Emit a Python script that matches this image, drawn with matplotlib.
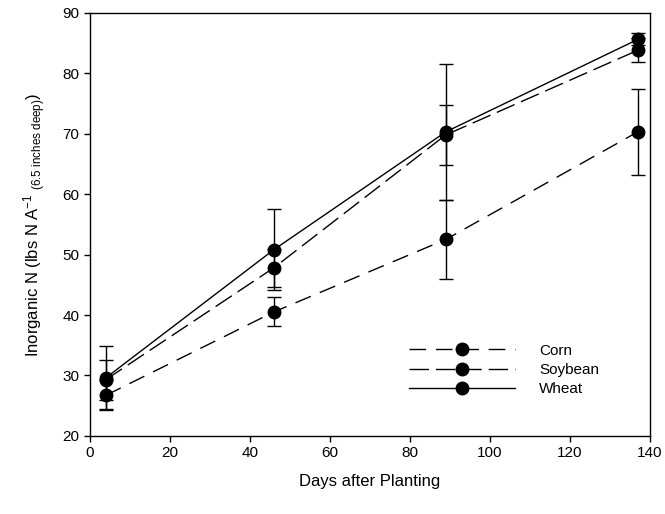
import matplotlib.pyplot as plt
from matplotlib.lines import Line2D

plt.rcParams['font.family'] = ['Liberation Sans', 'DejaVu Sans']
plt.rcParams['mathtext.fontset'] = 'custom'
plt.rcParams['mathtext.rm'] = 'Liberation Sans'
plt.rcParams['mathtext.it'] = 'Liberation Sans'

# Datos
dias = [4, 46, 89, 137]
corn = [26.7, 40.5, 52.5, 70.3]
corn_err = [2.5, 2.4, 6.5, 7.1]
soybean = [29.3, 47.8, 69.8, 83.8]
soybean_err = [3.3, 3.1, 5.0, 2.0]
wheat = [29.6, 50.8, 70.3, 85.6]
wheat_err = [5.2, 6.7, 11.3, 1.0]

series = [
    ("Corn", corn, corn_err, (0, (12, 7))),
    ("Soybean", soybean, soybean_err, (0, (14, 5))),
    ("Wheat", wheat, wheat_err, '-'),
]

fig = plt.figure(figsize=(6.65, 5.14), dpi=100)
ax = fig.add_axes([0.135, 0.152, 0.842, 0.823])

handles = []
for nome, y, err, estilo in series:
    ax.errorbar(dias, y, yerr=err, color='black', linestyle=estilo, linewidth=1,
                marker='o', markersize=9, capsize=5, elinewidth=1, capthick=1)
    handles.append(Line2D([], [], color='black', linestyle=estilo, linewidth=1,
                          marker='o', markersize=9, label=nome))

ax.set_xlim(0, 140)
ax.set_ylim(20, 90)
ax.set_xticks(range(0, 141, 20))
ax.set_yticks(range(20, 91, 10))
ax.tick_params(direction='out', labelsize=11, length=4, width=1)
for s in ax.spines.values():
    s.set_linewidth(1)

ax.set_xlabel('Days after Planting', fontsize=12, labelpad=10)
ax.set_ylabel(r'Inorganic N (lbs N A$^{-1}$ $_{\mathrm{(6.5\ inches\ deep)}}$)',
              fontsize=12, labelpad=10)

ax.legend(handles=handles, loc='center left', bbox_to_anchor=(0.571, 0.156),
          frameon=False, borderaxespad=0, borderpad=0,
          handlelength=6.9, fontsize=11, labelspacing=0.35, handletextpad=1.6,
          numpoints=1)

fig.savefig('out.png', dpi=100)
